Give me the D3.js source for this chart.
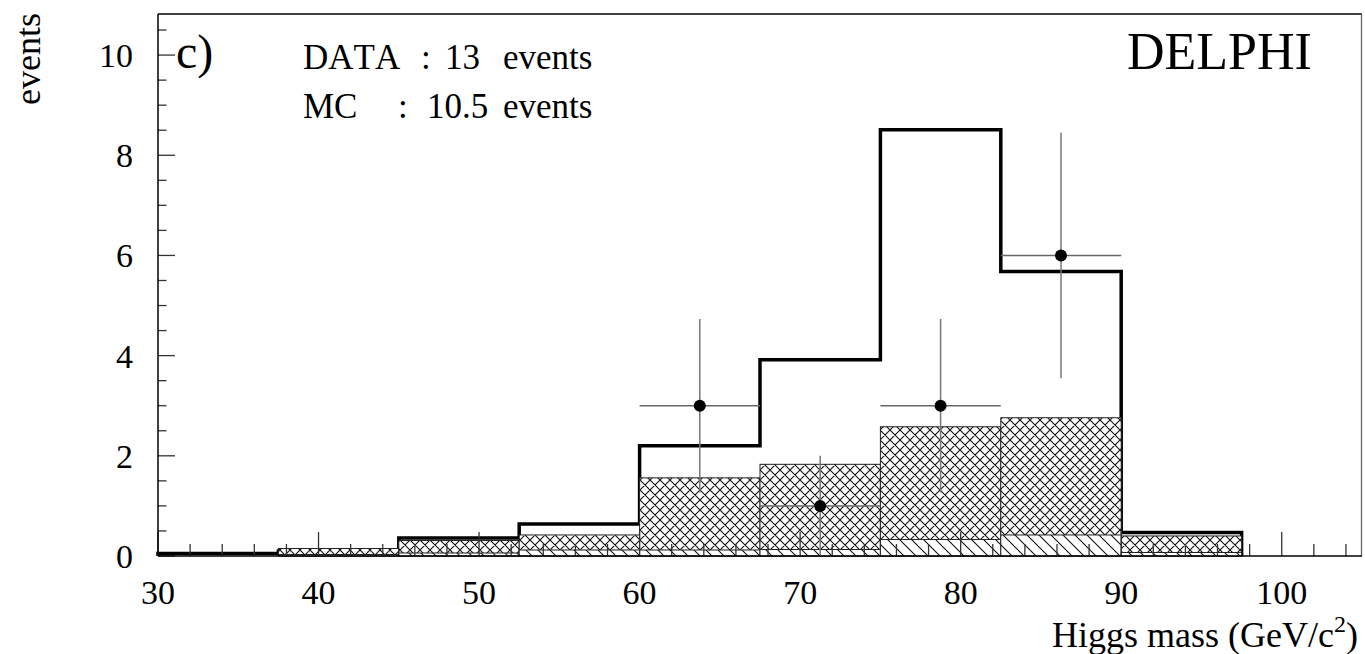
<!DOCTYPE html>
<html>
<head>
<meta charset="utf-8">
<script src="https://cdn.jsdelivr.net/npm/d3@7"></script>
<style>
  html, body { margin: 0; padding: 0; background: #fff; }
  svg { display: block; }
  text { font-family: "Liberation Serif", "Times New Roman", serif; fill: #000; font-kerning: none; }
</style>
</head>
<body>
<svg id="chart" width="1365" height="654"></svg>
<script>
// Histogram bins (GeV/c^2), bin width 7.5
const binLow = [30, 37.5, 45, 52.5, 60, 67.5, 75, 82.5, 90, 97.5];
const binWidth = 7.5;

// Total simulation (thick outline)
const mcTotal = [0.05, 0.10, 0.36, 0.64, 2.20, 3.92, 8.51, 5.68, 0.47, 0.0];
// Background, cross-hatched (cumulative top of the stack)
const bkgCross = [0.0, 0.15, 0.31, 0.42, 1.56, 1.83, 2.58, 2.76, 0.40, 0.0];
// Background, single diagonal hatch (bottom of the stack)
const bkgDiag = [0.0, 0.03, 0.06, 0.12, 0.12, 0.13, 0.33, 0.42, 0.07, 0.0];

// Selected data events per bin
const dataX = [63.75, 71.25, 78.75, 86.25];
const dataN = [3, 1, 3, 6];

const xTicks = [30, 40, 50, 60, 70, 80, 90, 100];
const yTicks = [0, 2, 4, 6, 8, 10];

const W = 1365, H = 654;
const margin = { left: 158, top: 14, right: 3, bottom: 98 };
const svg = d3.select("#chart");

const x = d3.scaleLinear().domain([30, 105]).range([margin.left, W - margin.right]);
const y = d3.scaleLinear().domain([0, 10.82]).range([H - margin.bottom, margin.top]);

// Hatch patterns
const defs = svg.append("defs");
const cross = defs.append("pattern")
  .attr("id", "crosshatch").attr("patternUnits", "userSpaceOnUse")
  .attr("width", 10).attr("height", 10);
cross.append("rect").attr("width", 10).attr("height", 10).attr("fill", "#fff");
cross.append("path").attr("d", "M0,0 L10,10 M10,0 L0,10 M-1,9 L1,11 M9,-1 L11,1 M-1,1 L1,-1 M9,11 L11,9")
  .attr("stroke", "#111").attr("stroke-width", 1.1);

const diag = defs.append("pattern")
  .attr("id", "diaghatch").attr("patternUnits", "userSpaceOnUse")
  .attr("width", 12).attr("height", 12);
diag.append("rect").attr("width", 12).attr("height", 12).attr("fill", "#fff");
diag.append("path").attr("d", "M0,0 L12,12 M-1,11 L1,13 M11,-1 L13,1")
  .attr("stroke", "#111").attr("stroke-width", 1.1);

const plot = svg.append("g");

// Total simulation as a step outline, closed down to the axis after the last filled bin
const lastBin = mcTotal.reduce((acc, v, i) => (v > 0 ? i : acc), 0);
let d = `M${x(binLow[0])},${y(0)}`;
for (let i = 0; i <= lastBin; i++) {
  d += ` V${y(mcTotal[i])} H${x(binLow[i] + binWidth)}`;
}
d += ` V${y(0)}`;
plot.append("path").attr("d", d)
  .attr("fill", "none").attr("stroke", "#000").attr("stroke-width", 3.5)
  .attr("stroke-linejoin", "miter");

// Cross-hatched background
plot.selectAll("rect.cross").data(binLow.map((b, i) => ({ b, v: bkgCross[i] })).filter(e => e.v > 0))
  .join("rect").attr("class", "cross")
  .attr("x", e => x(e.b)).attr("width", e => x(e.b + binWidth) - x(e.b))
  .attr("y", e => y(e.v)).attr("height", e => y(0) - y(e.v))
  .attr("fill", "url(#crosshatch)").attr("stroke", "#222").attr("stroke-width", 1);

// Diagonal-hatched background
plot.selectAll("rect.diag").data(binLow.map((b, i) => ({ b, v: bkgDiag[i] })).filter(e => e.v > 0))
  .join("rect").attr("class", "diag")
  .attr("x", e => x(e.b)).attr("width", e => x(e.b + binWidth) - x(e.b))
  .attr("y", e => y(e.v)).attr("height", e => y(0) - y(e.v))
  .attr("fill", "url(#diaghatch)").attr("stroke", "#222").attr("stroke-width", 1);

// Data with Poisson errors
const pts = dataX.map((m, i) => ({ m, n: dataN[i], e: Math.sqrt(dataN[i]) }));
const dg = plot.append("g");
dg.selectAll("line.h").data(pts).join("line").attr("class", "h")
  .attr("x1", p => x(p.m - binWidth / 2)).attr("x2", p => x(p.m + binWidth / 2))
  .attr("y1", p => y(p.n)).attr("y2", p => y(p.n))
  .attr("stroke", "#666").attr("stroke-width", 1.5);
dg.selectAll("line.v").data(pts).join("line").attr("class", "v")
  .attr("x1", p => x(p.m)).attr("x2", p => x(p.m))
  .attr("y1", p => y(p.n + p.e)).attr("y2", p => y(p.n - p.e))
  .attr("stroke", "#777").attr("stroke-width", 1.5);
dg.selectAll("circle").data(pts).join("circle")
  .attr("cx", p => x(p.m)).attr("cy", p => y(p.n)).attr("r", 6).attr("fill", "#000");

// Axis ticks (drawn over the histograms)
const axes = svg.append("g");
const xMinor = d3.range(30, 105.01, 2).filter(v => v % 10 !== 0);
axes.selectAll("line.xmaj").data(xTicks).join("line").attr("class", "xmaj")
  .attr("x1", v => x(v)).attr("x2", v => x(v))
  .attr("y1", y(0)).attr("y2", y(0) - 24)
  .attr("stroke", "#333").attr("stroke-width", 1.3);
axes.selectAll("line.xmin").data(xMinor).join("line").attr("class", "xmin")
  .attr("x1", v => x(v)).attr("x2", v => x(v))
  .attr("y1", y(0)).attr("y2", y(0) - 12)
  .attr("stroke", "#333").attr("stroke-width", 1.3);

const yMinor = d3.range(0, 10.81, 0.5).filter(v => v % 2 !== 0);
axes.selectAll("line.ymaj").data(yTicks).join("line").attr("class", "ymaj")
  .attr("x1", x(30)).attr("x2", x(30) + 17)
  .attr("y1", v => y(v)).attr("y2", v => y(v))
  .attr("stroke", "#333").attr("stroke-width", 1.3);
axes.selectAll("line.ymin").data(yMinor).join("line").attr("class", "ymin")
  .attr("x1", x(30)).attr("x2", x(30) + 8.5)
  .attr("y1", v => y(v)).attr("y2", v => y(v))
  .attr("stroke", "#333").attr("stroke-width", 1.3);

// Frame
const [x0, x1] = x.range(), [y0, y1] = y.range();
svg.append("line").attr("x1", x0).attr("x2", x1).attr("y1", y1).attr("y2", y1).attr("stroke", "#000").attr("stroke-width", 1.5);
svg.append("line").attr("x1", x0).attr("x2", x0).attr("y1", y1).attr("y2", y0).attr("stroke", "#000").attr("stroke-width", 1.5);
svg.append("line").attr("x1", x1 - 0.5).attr("x2", x1 - 0.5).attr("y1", y1).attr("y2", y0).attr("stroke", "#666").attr("stroke-width", 1.3);
svg.append("line").attr("x1", x0).attr("x2", x1).attr("y1", y0).attr("y2", y0).attr("stroke", "#000").attr("stroke-width", 1.5);

// Tick labels
svg.selectAll("text.xt").data(xTicks).join("text").attr("class", "xt")
  .attr("x", v => x(v)).attr("y", 604).attr("text-anchor", "middle")
  .attr("font-size", 34).text(v => v);
svg.selectAll("text.yt").data(yTicks).join("text").attr("class", "yt")
  .attr("x", 133).attr("y", v => y(v) + 12).attr("text-anchor", "end")
  .attr("font-size", 34).text(v => v);

// Axis titles
svg.append("text").attr("transform", "translate(40,13) rotate(-90)")
  .attr("text-anchor", "end").attr("font-size", 36).text("events");
const xl = svg.append("text").attr("x", 1358).attr("y", 647).attr("text-anchor", "end").attr("font-size", 36);
xl.append("tspan").text("Higgs mass (GeV/c");
xl.append("tspan").attr("font-size", 24).attr("dy", -15).text("2");
xl.append("tspan").attr("dy", 15).text(")");

// Panel annotations
svg.append("text").attr("x", 176).attr("y", 68).attr("font-size", 48).text("c)");
svg.append("text").attr("x", 1127).attr("y", 69).attr("font-size", 52).text("DELPHI");

const legend = [
  { label: "DATA", colonX: 421, num: "13", numX: 445, y: 69 },
  { label: "MC", colonX: 398, num: "10.5", numX: 427, y: 118 }
];
legend.forEach(r => {
  svg.append("text").attr("x", 303).attr("y", r.y).attr("font-size", 35).text(r.label);
  svg.append("text").attr("x", r.colonX).attr("y", r.y).attr("font-size", 35).text(":");
  svg.append("text").attr("x", r.numX).attr("y", r.y).attr("font-size", 35).text(r.num);
  svg.append("text").attr("x", 503).attr("y", r.y).attr("font-size", 35).text("events");
});
</script>
</body>
</html>
